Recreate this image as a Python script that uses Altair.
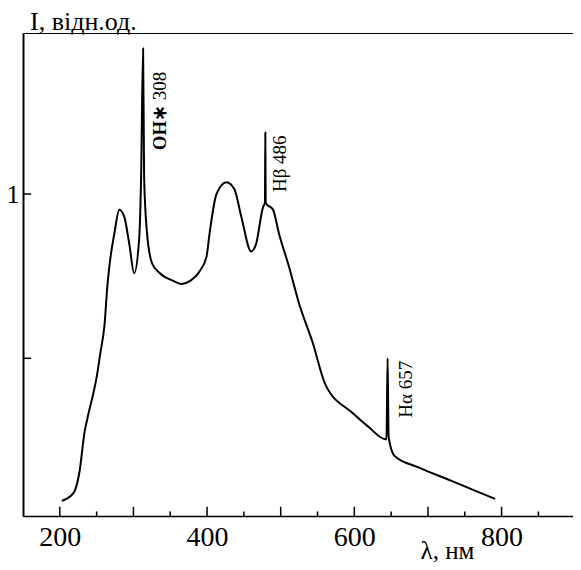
import altair as alt
import pandas as pd

# spectrum
lam = [202.7, 217.5, 220.2, 226.9, 233.7, 237.7, 251.2, 255.2, 260.6, 264.6,
       267.3, 274.1, 280.8, 287.5, 294.3, 301.0, 307.7, 310.4, 313.1, 314.5,
       318.5, 325.3, 336.0, 354.9, 365.7, 376.4, 389.9, 399.3, 403.4, 412.8,
       426.3, 437.0, 446.5, 459.9, 466.7, 476.1, 478.6, 479.1, 479.6, 489.6,
       497.6, 511.1, 524.6, 543.4, 560.9, 597.3, 618.9, 643.1, 643.8, 645.2,
       646.5, 648.5, 652.0, 655.2, 686.2, 732.0, 758.9, 791.2]
inten = [0.066, 0.087, 0.096, 0.157, 0.277, 0.319, 0.458, 0.518, 0.599, 0.720,
         0.780, 0.880, 0.952, 0.931, 0.849, 0.759, 0.861, 1.051, 1.443, 1.051,
         0.880, 0.789, 0.759, 0.735, 0.726, 0.735, 0.765, 0.810, 0.880, 1.000,
         1.036, 1.015, 0.931, 0.825, 0.849, 0.961, 0.973, 1.187, 0.973, 0.952,
         0.880, 0.780, 0.669, 0.548, 0.419, 0.334, 0.292, 0.253, 0.268, 0.500,
         0.265, 0.238, 0.212, 0.202, 0.169, 0.127, 0.102, 0.072]

# line labels
ann_text = ["OH\u2217", "308", "H\u03b2 486", "H\u03b1 657"]
ann_lam = [336.0, 336.0, 499.0, 670.0]
ann_int = [1.133, 1.285, 1.006, 0.319]
ann_bold = [True, False, False, False]

# axis ticks
x_labels = [200, 400, 600, 800]
x_major = [200, 300, 400, 500, 600, 700, 800]
x_minor = [250, 350, 450, 550, 650, 750, 850]
y_ticks = [0.5, 1.0]

XMIN, XMAX = 150, 897
YMIN, YMAX = 0.02, 1.49
FONT = "Liberation Serif"

df = pd.DataFrame({"lam": lam, "I": inten})
ann = pd.DataFrame({"t": ann_text, "lam": ann_lam, "I": ann_int, "b": ann_bold})

xs = alt.Scale(domain=[XMIN, XMAX], nice=False, zero=False)
ys = alt.Scale(domain=[YMIN, YMAX], nice=False, zero=False)

line = alt.Chart(df).mark_line(color="black", strokeWidth=2, interpolate="monotone").encode(
    x=alt.X("lam:Q", scale=xs, title="\u03bb, \u043d\u043c",
            axis=alt.Axis(values=x_labels, grid=False, titleX=424, titleY=42,
                          titleAlign="center", titleBaseline="alphabetic")),
    y=alt.Y("I:Q", scale=ys, title="",
            axis=alt.Axis(values=[1], format="d", grid=False, domainWidth=2)),
)

major = alt.Chart(pd.DataFrame({"v": x_major})).mark_rule(color="black", strokeWidth=1.5).encode(
    x="v:Q", y=alt.datum(YMIN), y2=alt.datum(YMIN + 0.028),
)
minor = alt.Chart(pd.DataFrame({"v": x_minor})).mark_rule(color="black", strokeWidth=1.5).encode(
    x="v:Q", y=alt.datum(YMIN), y2=alt.datum(YMIN + 0.014),
)
yt = alt.Chart(pd.DataFrame({"v": y_ticks})).mark_rule(color="black", strokeWidth=1.5).encode(
    y="v:Q", x=alt.datum(XMIN), x2=alt.datum(XMIN + 11),
)


def ann_layer(bold):
    return alt.Chart(ann).transform_filter(
        alt.datum.b if bold else ~alt.datum.b
    ).mark_text(
        angle=270, align="left", baseline="middle", font=FONT, fontSize=19,
        color="black", fontWeight="bold" if bold else "normal"
    ).encode(x="lam:Q", y="I:Q", text="t:N")


chart = alt.layer(line, major, minor, yt, ann_layer(True), ann_layer(False)).properties(
    width=550, height=483,
    autosize=alt.AutoSizeParams(type="none"),
    padding={"left": 15, "top": 25, "right": 0, "bottom": 46},
    title=alt.TitleParams(
        "I, \u0432\u0456\u0434\u043d.\u043e\u0434.", anchor="start", frame="group",
        font=FONT, fontSize=26, fontWeight="normal", color="black", offset=-2, dx=7),
).configure_view(
    stroke="black", strokeWidth=1
).configure_axis(
    ticks=False, tickSize=0, labelFont=FONT, labelColor="black", domainColor="black",
    domainWidth=1.5, titleFont=FONT, titleFontSize=25, titleFontWeight="normal",
    titleColor="black"
).configure_axisX(
    labelFontSize=28, labelPadding=7
).configure_axisY(
    labelFontSize=26, labelPadding=4
)

chart.save("out.html", embed_options={"renderer": "svg", "actions": False})
